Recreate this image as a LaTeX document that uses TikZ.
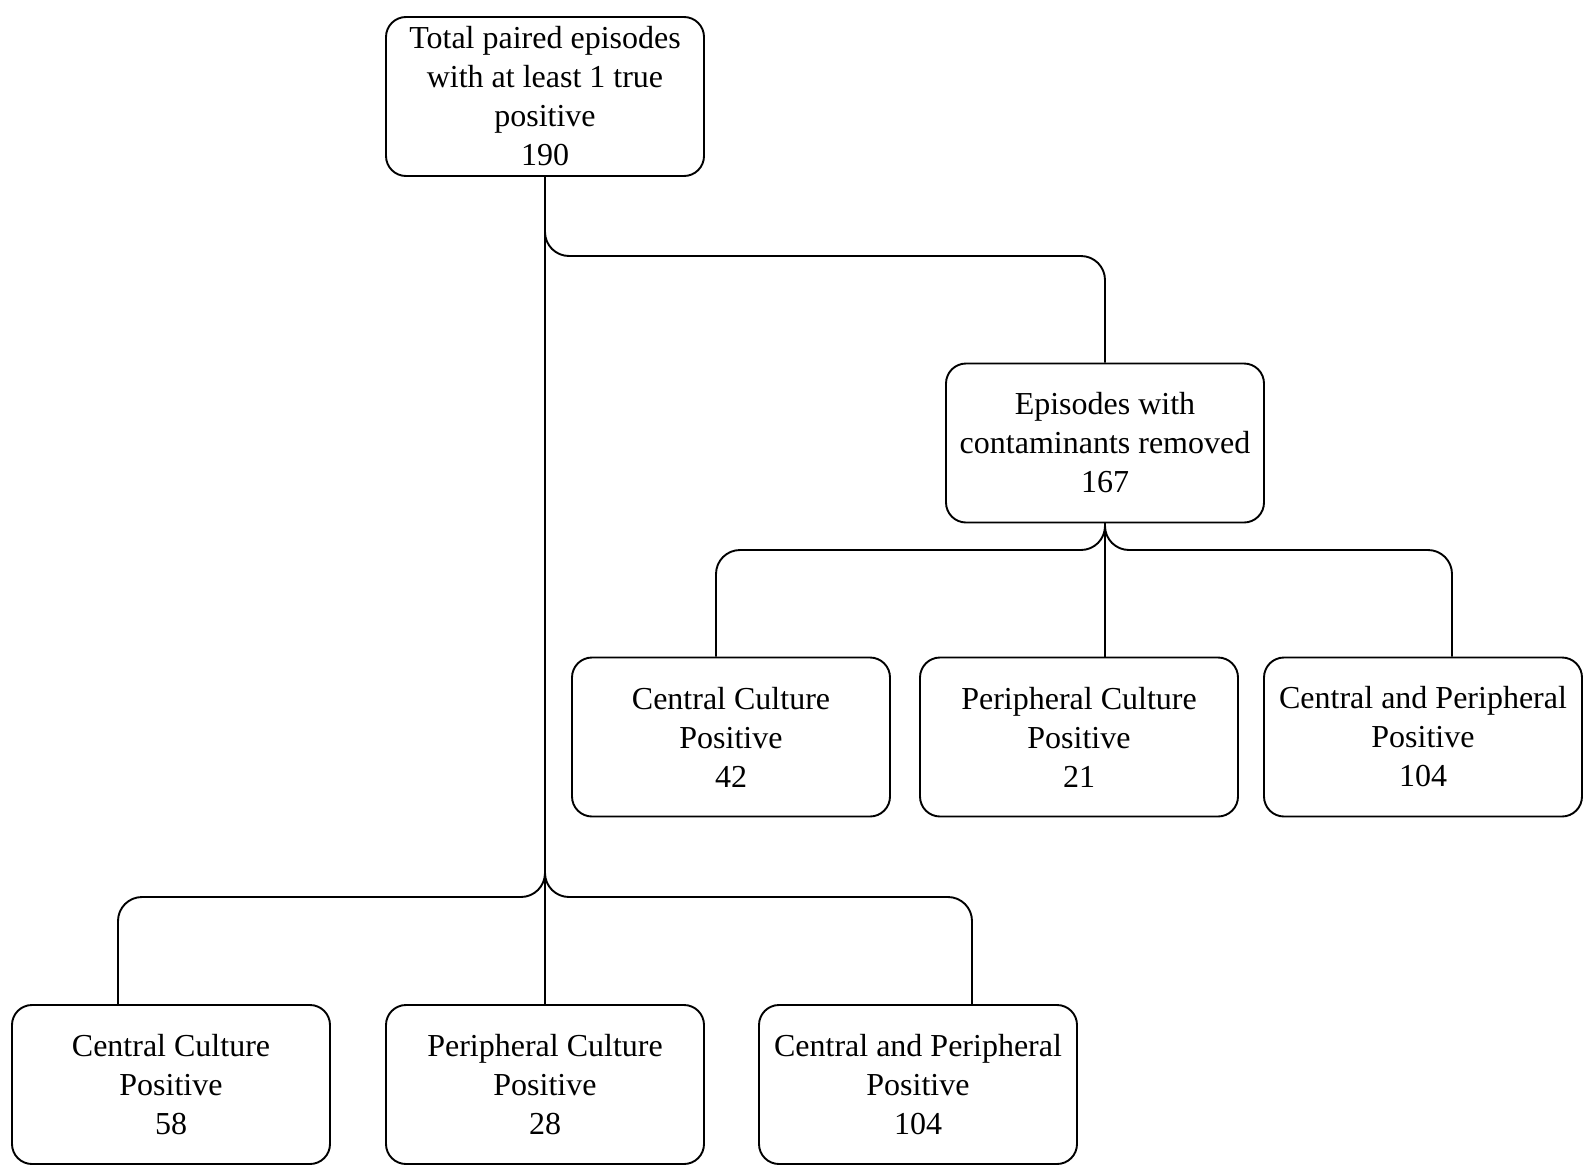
\documentclass[tikz,border=0pt]{standalone}
\usepackage{fontspec}
\setmainfont{Liberation Serif}
\begin{document}
\begin{tikzpicture}[x=1pt,y=-1pt,
  box/.style={draw, line width=1.9pt, rounded corners=20pt, minimum width=318pt,
    minimum height=159pt, align=center, inner sep=0pt,
    font=\fontsize{32}{39}\selectfont},
  link/.style={draw, line width=1.9pt, rounded corners=24pt}]
\useasboundingbox (0,0) rectangle (1583,1173);
% nodes
\node[box] (top) at (545,96.5) {Total paired episodes\\with at least 1 true\\positive\\190};
\node[box] (ep) at (1105,443) {Episodes with\\contaminants removed\\167};
\node[box] (c1) at (731,737) {Central Culture\\Positive\\42};
\node[box] (c2) at (1079,737) {Peripheral Culture\\Positive\\21};
\node[box] (c3) at (1423,737) {Central and Peripheral\\Positive\\104};
\node[box] (b1) at (171,1084.5) {Central Culture\\Positive\\58};
\node[box] (b2) at (545,1084.5) {Peripheral Culture\\Positive\\28};
\node[box] (b3) at (918,1084.5) {Central and Peripheral\\Positive\\104};
% junction coordinates
\coordinate (jtop) at (545,256);
\coordinate (jlow) at (545,897);
\coordinate (jep) at (1105,550);
% connectors
\draw[link] (top.south) -- (jtop) -| (ep.north);
\draw[link] (top.south) -- (jlow) -| ([xshift=-53pt]b1.north);
\draw[link] (top.south) -- (b2.north);
\draw[link] (top.south) -- (jlow) -| ([xshift=54pt]b3.north);
\draw[link] (ep.south) -- (jep) -| ([xshift=-15pt]c1.north);
\draw[link] (ep.south) -- ([xshift=26pt]c2.north);
\draw[link] (ep.south) -- (jep) -| ([xshift=29pt]c3.north);
\end{tikzpicture}
\end{document}
